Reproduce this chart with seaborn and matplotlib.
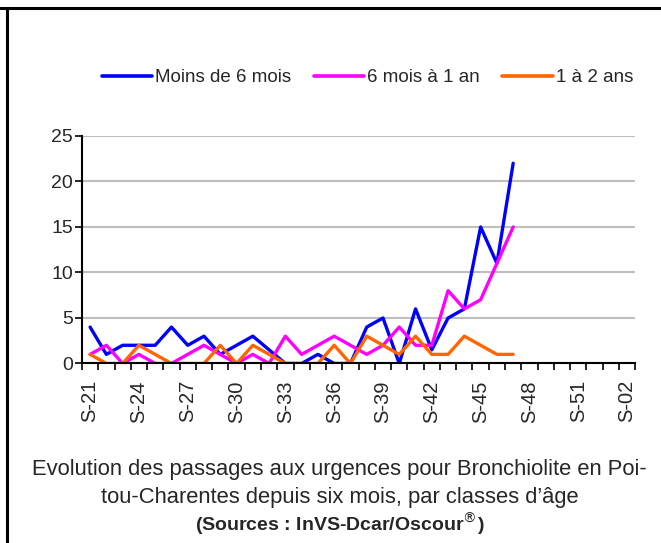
import pandas as pd
import numpy as np
import matplotlib.pyplot as plt
import seaborn as sns
from matplotlib.lines import Line2D

# semaines du graphique (axe complet)
semaines = [f"S-{w:02d}" for w in range(21, 53)] + ["S-01", "S-02"]
semaines_donnees = semaines[:27]  # S-21 .. S-47

moins_6_mois = [4, 1, 2, 2, 2, 4, 2, 3, 1, 2, 3, 1.5, 0, 0, 1, 0, 0, 4, 5, 0, 6, 1.5, 5, 6, 15, 11, 22]
six_mois_1_an = [1, 2, 0, 1, 0, 0, 1, 2, 1, 0, 1, 0, 3, 1, 2, 3, 2, 1, 2, 4, 2, 2, 8, 6, 7, 11, 15]
un_a_2_ans = [1, 0, 0, 2, 1, 0, 0, 0, 2, 0, 2, 1, 0, 0, 0, 2, 0, 3, 2, 1, 3, 1, 1, 3, 2, 1, 1]

series = ["Moins de 6 mois", "6 mois à 1 an", "1 à 2 ans"]
couleurs = ["#0000FF", "#FF00FF", "#FF6600"]

lignes = []
for nom, vals in zip(series, [moins_6_mois, six_mois_1_an, un_a_2_ans]):
    for sem, v in zip(semaines_donnees, vals):
        lignes.append({"semaine": sem, "pos": semaines.index(sem), "classe": nom, "valeur": v})
df = pd.DataFrame(lignes)

sns.set_style("white")
plt.rcParams['font.family'] = ['Liberation Sans', 'DejaVu Sans']

fig = plt.figure(figsize=(6.61, 5.43), dpi=100)
ax = fig.add_axes([0.124, 0.3306, 0.837, 0.419])

sns.lineplot(data=df, x="pos", y="valeur", hue="classe", hue_order=series,
             palette=couleurs, linewidth=2.4, ax=ax, legend=False, sort=False)

ax.set_xlim(-0.5, len(semaines) - 0.5)
ax.set_ylim(0, 25)
ax.set_yticks(range(0, 26, 5))
ax.set_xticks(np.arange(len(semaines) + 1) - 0.5, minor=True)
ax.set_xticks(range(0, len(semaines), 3))
ax.set_xticklabels(semaines[::3], rotation=90)
ax.tick_params(axis='x', which='major', length=0, labelsize=14.5, pad=12)
ax.tick_params(axis='x', which='minor', length=5, width=1.2, direction='out', color='black', bottom=True)
ax.tick_params(axis='y', length=5, width=1.2, direction='out', color='black', labelsize=14, left=True, pad=1.5)
ax.set_xlabel("")
ax.set_ylabel("")

ax.yaxis.grid(True, color="#BEBEBE", linewidth=1.5)
ax.xaxis.grid(False)
for s in ["top", "right"]:
    ax.spines[s].set_visible(False)
for s in ["left", "bottom"]:
    ax.spines[s].set_color("black")
    ax.spines[s].set_linewidth(1.5)

handles = [Line2D([], [], color=c, linewidth=2.6) for c in couleurs]
fig.legend(handles, series, loc="center", bbox_to_anchor=(0.556, 0.857), ncol=3,
           frameon=False, fontsize=13.5, handlelength=2.7, handletextpad=0.15,
           columnspacing=1.2)

# légende texte sous le graphique
police = ['Liberation Sans', 'DejaVu Sans']
fig.text(0.514, 1 - 470 / 543, "Evolution des passages aux urgences pour Bronchiolite en Poi-",
         ha="center", va="center", fontsize=15.8, family=police)
fig.text(0.514, 1 - 497 / 543, "tou-Charentes depuis six mois, par classes d\u2019âge",
         ha="center", va="center", fontsize=15.8, family=police)
fig.text(0.514, 1 - 524 / 543, r"(Sources : InVS-Dcar/Oscour$^{\circledR}$)",
         ha="center", va="center", fontsize=14, fontweight="bold", family=police)

# cadre
fig.add_artist(Line2D([0, 1], [1 - 7.5 / 543] * 2, color="black", linewidth=2.2, transform=fig.transFigure))
fig.add_artist(Line2D([6.5 / 661] * 2, [0, 1 - 7.5 / 543], color="black", linewidth=2.2, transform=fig.transFigure))

fig.savefig("out.png", dpi=100)
